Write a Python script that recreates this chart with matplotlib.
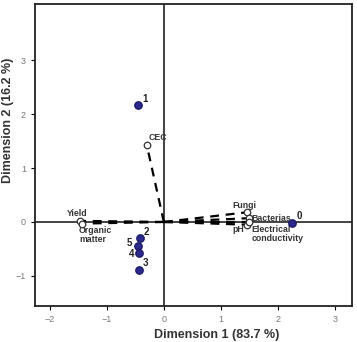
import numpy as np
import matplotlib.pyplot as plt

plt.rcParams['font.family'] = ['Liberation Sans', 'DejaVu Sans']

# object scores (numbered cases)
case_labels = ['0', '1', '2', '3', '4', '5']
case_x = [2.25, -0.46, -0.42, -0.44, -0.44, -0.46]
case_y = [-0.02, 2.17, -0.29, -0.89, -0.57, -0.44]

# variable loadings
var_labels = ['CEC', 'Yield', 'Organic\nmatter', 'Fungi', 'Bacterias', 'pH', 'Electrical\nconductivity']
var_x = [-0.30, -1.47, -1.44, 1.46, 1.49, 1.45, 1.50]
var_y = [1.43, 0.02, -0.03, 0.18, 0.07, -0.05, 0.00]

fig = plt.figure(figsize=(3.57, 3.42), dpi=100)
ax = fig.add_axes([0.098, 0.105, 0.888, 0.883])

ax.axhline(0, color='#222222', lw=1.2, zorder=1)
ax.axvline(0, color='#222222', lw=1.2, zorder=1)

for vx, vy in zip(var_x, var_y):
    ax.plot([0, vx], [0, vy], color='black', lw=1.6, ls=(0, (4, 3)), zorder=2)
ax.scatter(var_x, var_y, s=22, facecolor='white', edgecolor='#333333', lw=0.9, zorder=3)

ax.scatter(case_x, case_y, s=28, color='#2b2a8c', edgecolor='#1c1b6b', zorder=4)

# case labels
case_off = {'0': (0.08, 0.07), '1': (0.08, 0.06), '2': (0.07, 0.04), '3': (0.07, 0.08),
            '4': (-0.17, -0.08), '5': (-0.20, 0.00)}
for lab, cx, cy in zip(case_labels, case_x, case_y):
    dx, dy = case_off[lab]
    ax.text(cx + dx, cy + dy, lab, fontsize=7, fontweight='bold', color='#222222')

# variable labels
var_pos = {'CEC': (0.04, 0.06, 'left', 'bottom'),
           'Yield': (-0.05, 0.06, 'center', 'bottom'),
           'Organic\nmatter': (-0.05, -0.04, 'left', 'top'),
           'Fungi': (-0.04, 0.05, 'center', 'bottom'),
           'Bacterias': (0.04, -0.01, 'left', 'center'),
           'pH': (-0.04, -0.01, 'right', 'top'),
           'Electrical\nconductivity': (0.04, -0.05, 'left', 'top')}
for lab, vx, vy in zip(var_labels, var_x, var_y):
    dx, dy, ha, va = var_pos[lab]
    ax.text(vx + dx, vy + dy, lab, fontsize=6.3, fontweight='bold', color='#333333',
            ha=ha, va=va, linespacing=1.0)

ax.set_xlim(-2.26, 3.30)
ax.set_ylim(-1.56, 4.04)
ax.set_xticks([-2, -1, 0, 1, 2, 3])
ax.set_yticks([-1, 0, 1, 2, 3])
ax.tick_params(labelsize=6.5, labelcolor='#777777', length=3, width=0.8)
for s in ax.spines.values():
    s.set_linewidth(1.3)
    s.set_color('#222222')

ax.set_xlabel('Dimension 1 (83.7 %)', fontsize=9, fontweight='bold', color='#333333')
ax.set_ylabel('Dimension 2 (16.2 %)', fontsize=9, fontweight='bold', color='#333333')
ax.xaxis.set_label_coords(0.574, -0.076)
ax.yaxis.set_label_coords(-0.066, 0.616)

fig.savefig('out.png', dpi=100)
